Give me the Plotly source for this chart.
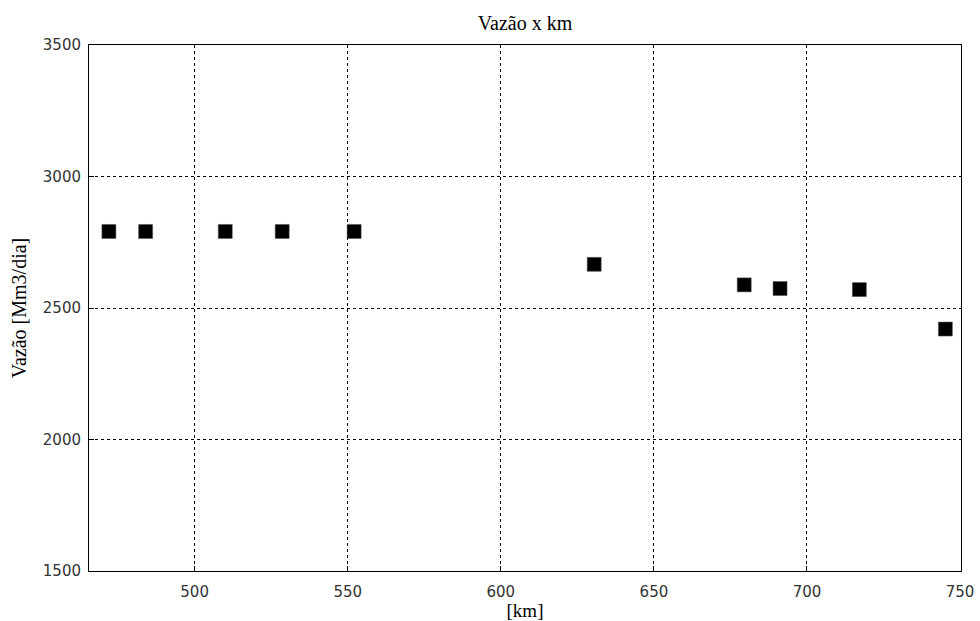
import plotly.graph_objects as go

# Flow rate along the pipeline (km position vs. flow in Mm3/day)
km = [472.0, 484.0, 510.0, 528.6, 552.1, 630.5, 679.5, 691.2, 717.1, 745.2]
vazao = [2791, 2791, 2791, 2791, 2791, 2666, 2588, 2574, 2570, 2420]

x_ticks = [500, 550, 600, 650, 700, 750]
y_ticks = [1500, 2000, 2500, 3000, 3500]

serif = "Liberation Serif"
sans = "DejaVu Sans"

fig = go.Figure(
    go.Scatter(
        x=km,
        y=vazao,
        mode="markers",
        marker=dict(symbol="square", size=14, color="black",
                    line=dict(width=0.5, color="#555")),
        showlegend=False,
    )
)

axis_common = dict(
    showline=True,
    linecolor="black",
    linewidth=1,
    mirror=True,
    showgrid=True,
    gridcolor="black",
    griddash="dot",
    gridwidth=1,
    zeroline=False,
    ticks="inside",
    ticklen=5,
    tickcolor="black",
    automargin=False,
    tickfont=dict(family=sans, size=15, color="#333"),
)

fig.update_layout(
    width=980,
    height=621,
    paper_bgcolor="white",
    plot_bgcolor="white",
    margin=dict(l=89, r=19, t=45, b=50),
    title=dict(text="Vazão x km", xref="paper", x=0.5, xanchor="center",
               yref="container", y=1 - 23 / 621, yanchor="middle",
               font=dict(family=serif, size=20, color="black"),
               automargin=False),
    xaxis=dict(
        range=[465.5, 750.3],
        tickvals=x_ticks,
        ticklabelstandoff=7,
        title=dict(text="[km]", font=dict(family=serif, size=19, color="black"), standoff=0),
        **axis_common,
    ),
    yaxis=dict(
        range=[1500, 3500],
        tickvals=y_ticks,
        ticklabelstandoff=4,
        title=dict(text="Vazão [Mm3/dia]", font=dict(family=serif, size=20, color="black"), standoff=10),
        **axis_common,
    ),
)

fig.write_html("out.html")
